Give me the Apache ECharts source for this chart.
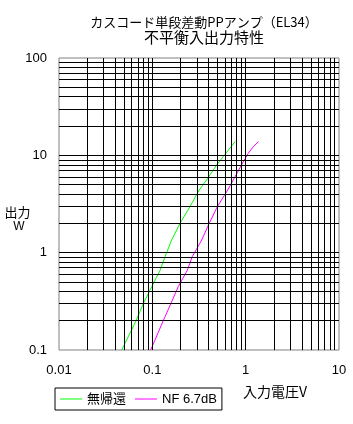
<!DOCTYPE html>
<html>
<head>
<meta charset="utf-8">
<script src="https://cdn.jsdelivr.net/npm/echarts@6/dist/echarts.min.js"></script>
<style>
html,body{margin:0;padding:0;background:#fff;}
#c{width:353px;height:424px;}
</style>
</head>
<body>
<div id="c"></div>
<script>
// ---- data ----
var titleLine1 = 'カスコード単段差動PPアンプ（EL34）';
var titleLine2 = '不平衡入出力特性';
var xAxisName = '入力電圧V';
var yAxisName1 = '出力';
var yAxisName2 = 'W';
var seriesNames = ['無帰還', 'NF 6.7dB'];

// 無帰還 (no feedback): input voltage V, output W
var noFbV = [0.047, 0.067, 0.080, 0.099, 0.121, 0.137, 0.161, 0.198, 0.253, 0.318, 0.382, 0.49, 0.575, 0.77];
var noFbW = [0.1, 0.2, 0.3, 0.45, 0.66, 0.91, 1.35, 2.0, 2.97, 4.4, 5.6, 8.0, 9.7, 13.8];

// NF 6.7dB
var nfV = [0.096, 0.131, 0.158, 0.19, 0.237, 0.268, 0.338, 0.407, 0.497, 0.642, 0.737, 0.944, 1.067, 1.21, 1.37];
var nfW = [0.1, 0.2, 0.3, 0.45, 0.66, 0.91, 1.35, 2.0, 2.97, 4.4, 5.6, 8.6, 10.5, 12.3, 13.8];

// axis ranges / grid decades
var xMin = 0.01, xMax = 10;
var yMin = 0.1, yMax = 100;
var xDecades = [0.01, 0.1, 1];
var yDecades = [0.1, 1, 10];
var mantissas = [1, 2, 3, 4, 5, 6, 7, 8, 9];

// ---- build ----
function pairs(a, b) { return a.map(function (v, i) { return [v, b[i]]; }); }
function gridValues(decades, lo) {
  var out = [];
  decades.forEach(function (d) {
    mantissas.forEach(function (m) {
      var v = +(d * m).toPrecision(6);
      if (v > lo) out.push(v);
    });
  });
  return out;
}
var gridLines = [];
gridValues(xDecades, xMin).forEach(function (v) { gridLines.push({ xAxis: v }); });
gridValues(yDecades, yMin).forEach(function (v) { gridLines.push({ yAxis: v }); });

var chart = echarts.init(document.getElementById('c'), null, { renderer: 'canvas' });
var latin = '"Liberation Sans", Arial, "Noto Sans CJK JP", sans-serif';
var cjk = '"Noto Sans CJK JP", "Liberation Sans", sans-serif';

chart.setOption({
  animation: false,
  backgroundColor: '#fff',
  grid: { left: 59, right: 14, top: 58, bottom: 74, show: true, borderColor: '#808080', borderWidth: 1, backgroundColor: '#fff' },
  xAxis: {
    type: 'log', logBase: 10, min: xMin, max: xMax,
    axisLine: { show: false }, axisTick: { show: false }, splitLine: { show: false },
    axisLabel: { color: '#000', fontSize: 13, fontFamily: latin, margin: 14 }
  },
  yAxis: {
    type: 'log', logBase: 10, min: yMin, max: yMax,
    axisLine: { show: false }, axisTick: { show: false }, splitLine: { show: false },
    axisLabel: { color: '#000', fontSize: 13, fontFamily: latin, margin: 12 }
  },
  legend: {
    data: seriesNames,
    left: 55, top: 388,
    orient: 'horizontal',
    icon: 'rect',
    borderColor: '#000', borderWidth: 1, borderRadius: 0,
    padding: [3, 5, 3, 5],
    itemWidth: 22, itemHeight: 1, itemGap: 9,
    textStyle: { color: '#000', fontSize: 13, fontFamily: latin, lineHeight: 16 }
  },
  graphic: [
    { type: 'text', x: 204, y: 22, style: { text: titleLine1, font: '13px ' + cjk, fill: '#000', align: 'center', verticalAlign: 'middle' } },
    { type: 'text', x: 204, y: 37, style: { text: titleLine2, font: '15px ' + cjk, fill: '#000', align: 'center', verticalAlign: 'middle' } },
    { type: 'text', x: 17.5, y: 212, style: { text: yAxisName1, font: '13px ' + cjk, fill: '#000', align: 'center', verticalAlign: 'middle' } },
    { type: 'text', x: 19, y: 227, style: { text: yAxisName2, font: '12px ' + latin, fill: '#000', align: 'center', verticalAlign: 'middle' } },
    { type: 'text', x: 243, y: 392, style: { text: xAxisName, font: '14px ' + cjk, fill: '#000', align: 'left', verticalAlign: 'middle' } }
  ],
  series: [
    {
      name: '_grid', type: 'line', data: [], z: 1, silent: true,
      markLine: {
        silent: true, symbol: ['none', 'none'], animation: false,
        label: { show: false },
        lineStyle: { color: '#000', width: 1, type: 'solid' },
        emphasis: { disabled: true },
        data: gridLines
      }
    },
    {
      name: seriesNames[0], type: 'line', z: 3, data: pairs(noFbV, noFbW),
      symbol: 'none', smooth: false, color: '#00ff00',
      lineStyle: { color: '#00ff00', width: 1 }
    },
    {
      name: seriesNames[1], type: 'line', z: 3, data: pairs(nfV, nfW),
      symbol: 'none', smooth: false, color: '#ff00ff',
      lineStyle: { color: '#ff00ff', width: 1 }
    }
  ]
});
</script>
</body>
</html>
